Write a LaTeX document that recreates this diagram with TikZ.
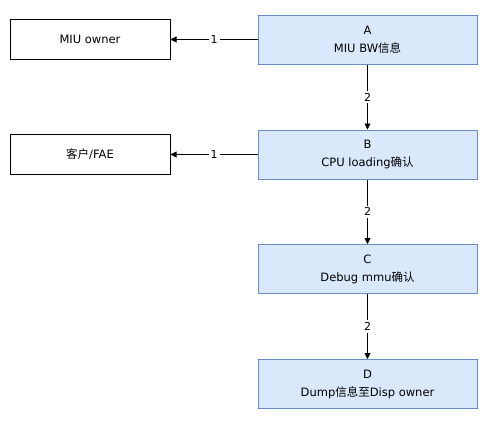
\documentclass[tikz,border=0pt]{standalone}
\usepackage{fontspec}
\setmainfont{DejaVu Sans}
\newfontfamily\cjk{Noto Sans CJK SC}
\usetikzlibrary{arrows.meta, positioning}
\definecolor{stagefill}{HTML}{DAE8FC}
\definecolor{stageline}{HTML}{6C8EBF}

\begin{document}
\begin{tikzpicture}[x=1pt, y=-1pt,
    box/.style={draw, line width=1pt, align=center, inner sep=0pt,
                font=\fontsize{11.5}{18}\selectfont},
    stage/.style={box, draw=stageline, fill=stagefill,
                  minimum width=219pt, minimum height=49pt},
    side/.style={box, draw=black, fill=white,
                 minimum width=160pt, minimum height=40pt},
    link/.style={-{Triangle[length=6pt, width=6pt]}, line width=0.9pt},
    num/.style={fill=white, inner sep=2pt, font=\fontsize{11}{13}\selectfont},
]
\useasboundingbox (0,0) rectangle (492,439);
\node[stage] (a) at (367.5,39.5)  {A\\MIU BW{\cjk 信息}};
\node[stage] (b) at (367.5,154.5) {B\\CPU loading{\cjk 确认}};
\node[stage] (c) at (367.5,269)   {C\\Debug mmu{\cjk 确认}};
\node[stage] (d) at (367.5,384)   {D\\Dump{\cjk 信息至}Disp owner};
\node[side]  (own)  at (90,39.5)  {MIU owner};
\node[side]  (cust) at (90,154.5) {{\cjk 客户}/FAE};
\draw[link] (a) -- node[num]{1} (own);
\draw[link] (b) -- node[num]{1} (cust);
\draw[link] (a) -- node[num]{2} (b);
\draw[link] (b) -- node[num]{2} (c);
\draw[link] (c) -- node[num]{2} (d);
\end{tikzpicture}
\end{document}
